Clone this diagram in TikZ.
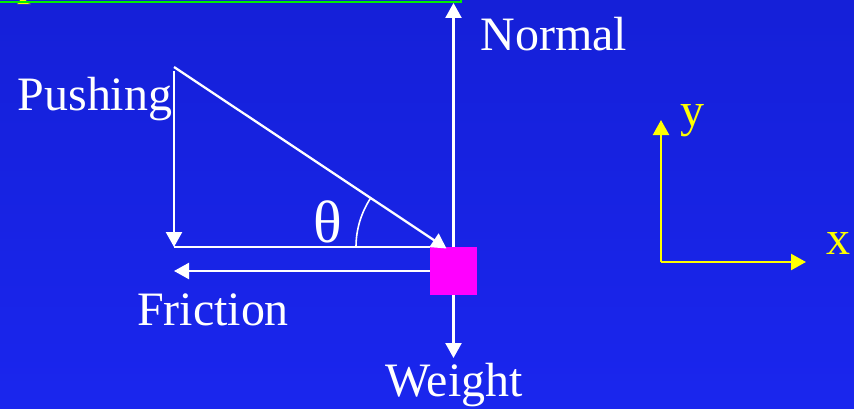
\documentclass[tikz,border=0pt]{standalone}
\usepackage{fontspec}
\setmainfont{Liberation Serif}
\usetikzlibrary{arrows.meta,positioning,calc}
\definecolor{hblau}{HTML}{1520D8}
\definecolor{hblaul}{HTML}{1A26EE}
\definecolor{klotz}{HTML}{FF00FF}
\definecolor{gruen}{HTML}{00F000}
\definecolor{gelb}{HTML}{FFFF00}
\tikzset{
  kraft/.style={-{Triangle[length=3mm,width=3.2mm]},white,line width=1.3pt},
  achse/.style={-{Triangle[length=3mm,width=3.2mm]},gelb,line width=1.3pt},
  hilf/.style={white,line width=1.3pt},
  txt/.style={white,font=\fontsize{27.3}{30}\selectfont,inner sep=0pt},
  atxt/.style={gelb,font=\fontsize{27.3}{30}\selectfont,inner sep=0pt},
}
\begin{document}
\begin{tikzpicture}
  \shade[top color=hblau,bottom color=hblaul] (0,0) rectangle (17.08,8.16);
  \useasboundingbox (0,0) rectangle (17.08,8.16);
  % Rest oben
  \fill[gelb] (0.40,8.16)--(0.52,8.16)--(0.54,8.10)--(0.62,8.08)--(0.34,8.08)--(0.38,8.10)--cycle;
  \draw[gruen,line width=1.7pt] (0,8.12)--(9.22,8.12)--(9.22,8.16);
  % Klotz
  \node[fill=klotz,minimum width=9.4mm,minimum height=9.6mm,inner sep=0pt] (blk) at (9.07,2.74) {};
  \coordinate (ntip) at (9.07,8.10);
  \coordinate (wtip) at (9.07,1.00);
  \coordinate (pstart) at (3.48,6.82);
  \coordinate (ptip) at (8.93,3.19);
  \coordinate (vstart) at (3.48,6.74);
  \coordinate (ecke) at (3.48,3.22);
  \coordinate (hend) at (8.60,3.22);
  \coordinate (ftip) at (3.48,2.74);
  % Kraefte
  \draw[kraft] (blk.north) -- (ntip);
  \draw[kraft] (blk.south) -- (wtip);
  \draw[kraft] (blk.west) -- (ftip);
  \draw[kraft] (vstart) -- (ecke);
  \draw[hilf] (ecke) -- (hend);
  \draw[kraft] (pstart) -- (ptip);
  \draw[white,line width=0.9pt] (7.12,3.22) arc (180:146.4:1.78);
  \node[txt] (nlab) at (11.08,7.48) {Normal};
  \node[txt] (plab) at (1.90,6.18) {Pushing};
  \node[txt] (flab) at (4.26,1.96) {Friction};
  \node[txt] (wlab) at (9.08,0.46) {Weight};
  \node[white,font=\fontsize{34}{38}\selectfont,inner sep=0pt] (th) at (6.56,3.72) {θ};
  % Achsen
  \coordinate (ursp) at (13.22,2.92);
  \coordinate (ytip) at (13.22,5.76);
  \coordinate (xtip) at (16.12,2.92);
  \draw[achse] (ursp) -- (ytip);
  \draw[achse] (ursp) -- (xtip);
  \node[atxt] (ylab) at (13.84,5.74) {y};
  \node[atxt] (xlab) at (16.76,3.30) {x};
\end{tikzpicture}
\end{document}
